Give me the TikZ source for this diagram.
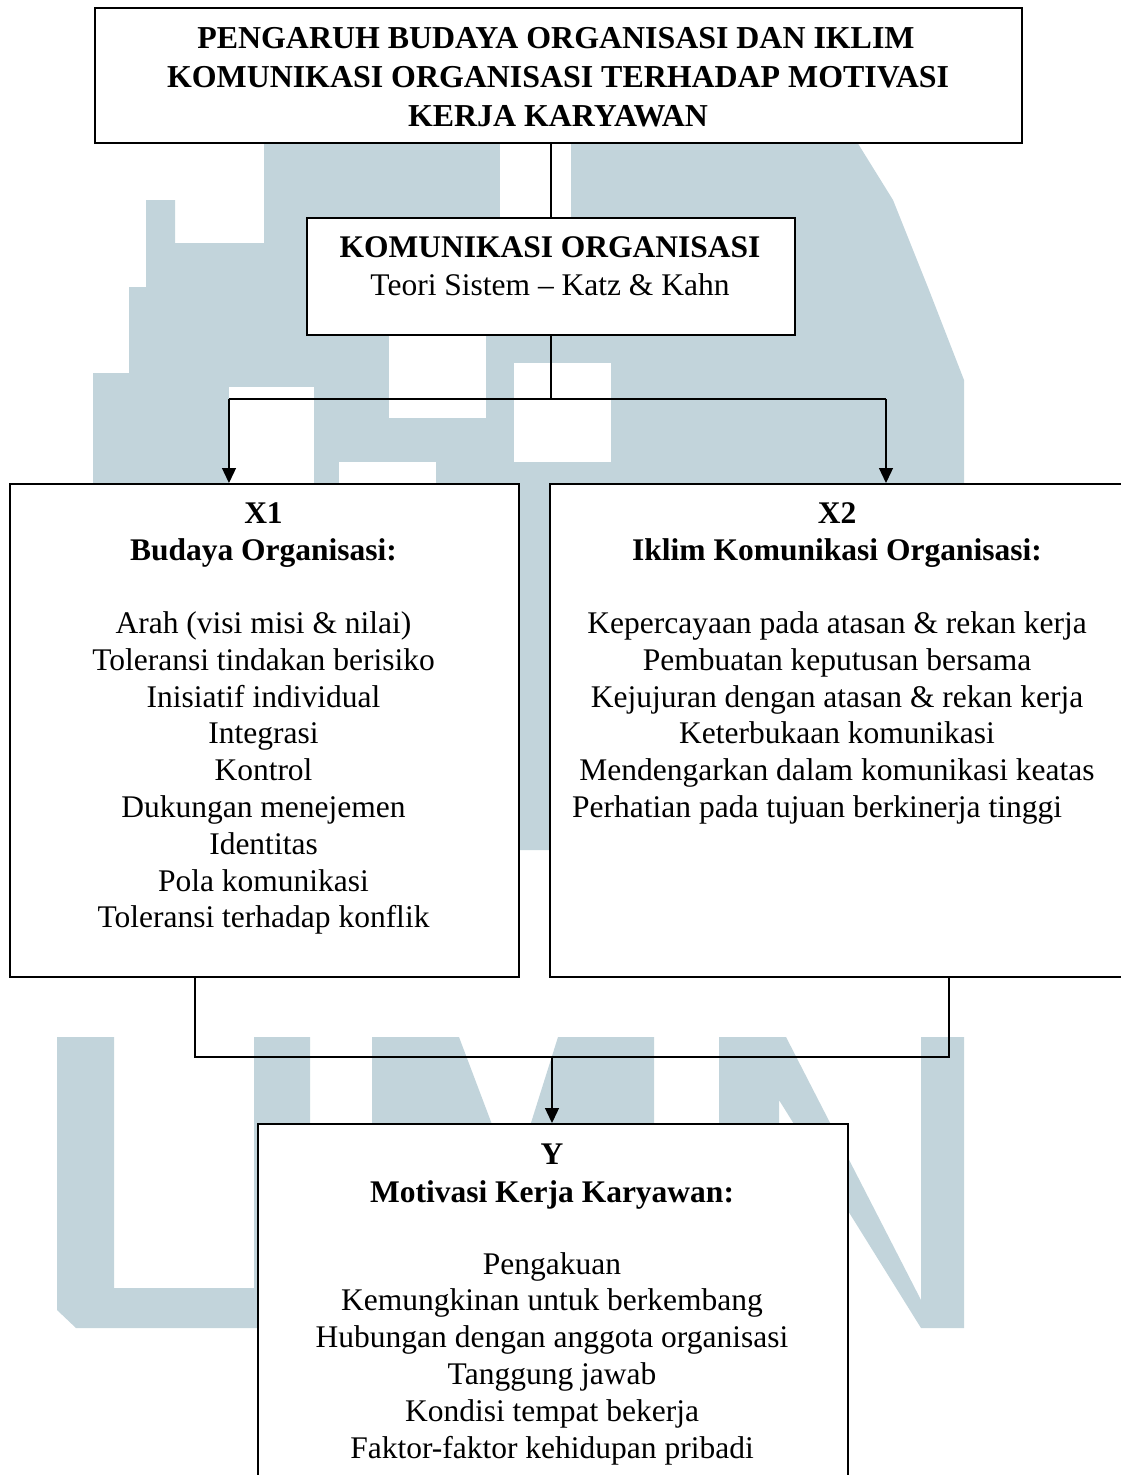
\documentclass[tikz,border=0pt]{standalone}
\usepackage{fontspec}
\setmainfont{Liberation Serif}
\usetikzlibrary{arrows.meta}
\definecolor{wm}{RGB}{194,212,219}
\begin{document}
\begin{tikzpicture}[x=1pt,y=-1pt,
  box/.style={draw=black,line width=2.2pt,fill=white,rectangle,inner sep=0pt,anchor=north west},
  conn/.style={line width=1.3pt},
  arr/.style={conn,-{Triangle[length=15pt,width=14pt]}},
  body/.style={font=\fontsize{31.5}{36.8}\selectfont,inner sep=0pt,anchor=base},
  head/.style={font=\fontsize{31.5}{36.8}\selectfont\bfseries,inner sep=0pt,anchor=base},
  ttl/.style={font=\fontsize{31.9}{39}\selectfont\bfseries,inner sep=0pt,anchor=base}]
\useasboundingbox (0,0) rectangle (1121,1475);

% ---- watermark (background) ----
\fill[wm] (264,142) -- (857,142) -- (893,200) -- (929,290) -- (964,380) -- (964,850)
  -- (93,850) -- (93,373) -- (129,373) -- (129,287) -- (146,287) -- (146,200)
  -- (175,200) -- (175,243) -- (264,243) -- cycle;
\fill[white] (500,142) rectangle (571,217);
\fill[white] (389,335) rectangle (486,418);
\fill[white] (514,363) rectangle (611,462);
\fill[white] (229,387) rectangle (314,485);
\fill[white] (339,462) rectangle (436,485);
% U
\fill[wm] (57,1037) -- (114,1037) -- (114,1288) -- (254,1288) -- (254,1037) -- (310,1037)
  -- (310,1310) -- (292,1328) -- (76,1328) -- (57,1310) -- cycle;
% M
\fill[wm] (372,1037) -- (459,1037) -- (513,1180) -- (558,1037) -- (654,1037) -- (654,1328)
  -- (590,1328) -- (590,1190) -- (540,1300) -- (490,1300) -- (436,1190) -- (436,1328)
  -- (372,1328) -- cycle;
% N
\fill[wm] (719,1037) -- (786,1037) -- (921,1300) -- (921,1037) -- (964,1037) -- (964,1328)
  -- (921,1328) -- (779,1100) -- (779,1328) -- (719,1328) -- cycle;

% ---- boxes ----
\node[box,minimum width=927pt,minimum height=135pt] (title) at (94,7) {};
\node[box,minimum width=488pt,minimum height=117pt] (kom) at (306,217) {};
\node[box,minimum width=509pt,minimum height=493pt] (x1) at (9,483) {};
\node[box,minimum width=577pt,minimum height=493pt] (x2) at (549,483) {};
\node[box,minimum width=590pt,minimum height=357pt] (y) at (257,1123) {};

% ---- title text ----
\node[ttl] (t1) at (556,48.3) {PENGARUH BUDAYA ORGANISASI DAN IKLIM};
\node[ttl] (t2) at (558,87.3) {KOMUNIKASI ORGANISASI TERHADAP MOTIVASI};
\node[ttl] (t3) at (558,126) {KERJA KARYAWAN};

% ---- komunikasi organisasi ----
\node[head] (k1) at (550,257) {KOMUNIKASI ORGANISASI};
\node[body] (k2) at (550,295) {Teori Sistem – Katz \& Kahn};

% ---- X1 ----
\node[head] (x1a) at (263.5,523) {X1};
\node[head] (x1b) at (263.5,560) {Budaya Organisasi:};
\foreach [count=\i] \t in {{Arah (visi misi \& nilai)},{Toleransi tindakan berisiko},
  {Inisiatif individual},{Integrasi},{Kontrol},{Dukungan menejemen},{Identitas},
  {Pola komunikasi},{Toleransi terhadap konflik}}
  \node[body] (x1i\i) at (263.5,{596.7+36.8*\i}) {\t};

% ---- X2 ----
\node[head] (x2a) at (837,523) {X2};
\node[head] (x2b) at (837,560) {Iklim Komunikasi Organisasi:};
\foreach [count=\i] \t in {{Kepercayaan pada atasan \& rekan kerja},{Pembuatan keputusan bersama},
  {Kejujuran dengan atasan \& rekan kerja},{Keterbukaan komunikasi},
  {Mendengarkan dalam komunikasi keatas}}
  \node[body] (x2i\i) at (837,{596.7+36.8*\i}) {\t};
\node[body,anchor=base west] (x2i6) at (572,817.5) {Perhatian pada tujuan berkinerja tinggi};

% ---- Y ----
\node[head] (ya) at (552,1164) {Y};
\node[head] (yb) at (552,1202) {Motivasi Kerja Karyawan:};
\foreach [count=\i] \t in {{Pengakuan},{Kemungkinan untuk berkembang},
  {Hubungan dengan anggota organisasi},{Tanggung jawab},{Kondisi tempat bekerja},
  {Faktor-faktor kehidupan pribadi}}
  \node[body] (yi\i) at (552,{1237.2+36.8*\i}) {\t};

% ---- connectors ----
\coordinate (a1) at (229,399);
\coordinate (a2) at (886,399);
\coordinate (split) at (kom.south |- a1);
\draw[conn] (kom.north) -- (kom.north |- title.south);
\draw[conn] (kom.south) -- (split);
\draw[conn] (a1) -- (a2);
\draw[arr] (a1) -- (a1 |- x1.north);
\draw[arr] (a2) -- (a2 |- x2.north);

\coordinate (b1) at (195,1057);
\coordinate (b2) at (949,1057);
\coordinate (bm) at (552,1057);
\draw[conn] (b1 |- x1.south) -- (b1) -- (b2) -- (b2 |- x2.south);
\draw[arr] (bm) -- (bm |- y.north);
\end{tikzpicture}
\end{document}
